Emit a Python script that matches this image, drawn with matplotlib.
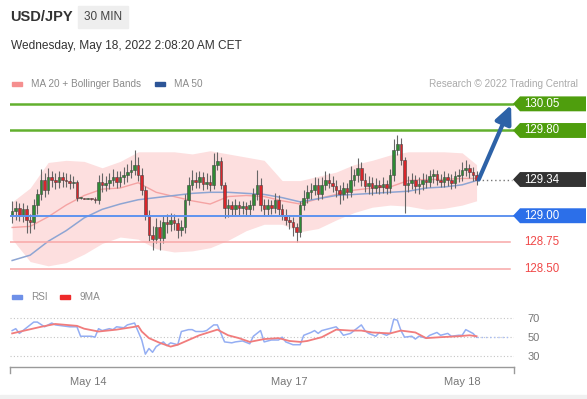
import numpy as np
import matplotlib.pyplot as plt
from matplotlib.patches import Polygon, Rectangle

plt.rcParams['font.family'] = ['Liberation Sans', 'DejaVu Sans']

W, H = 587, 399

# 30 min candles (open = previous close)
first_open = 129.01
close = [129.04, 129.07, 129.01, 129.06, 128.96, 128.94, 129.10, 129.20, 129.34, 129.24,
         129.36, 129.34, 129.32, 129.36, 129.34, 129.33, 129.31, 129.32, 129.17, 129.17,
         129.16, 129.17, 129.16, 129.15, 129.32, 129.29, 129.31, 129.34, 129.36, 129.32,
         129.36, 129.38, 129.41, 129.43, 129.48, 129.38, 129.24, 129.01, 128.82, 128.78,
         128.89, 128.79, 128.94, 128.92, 128.96, 128.93, 128.87, 128.89, 129.15, 129.29,
         129.34, 129.32, 129.36, 129.30, 129.32, 129.29, 129.48, 129.51, 129.29, 129.07,
         129.10, 129.06, 129.10, 129.07, 129.09, 129.06, 129.10, 129.20, 129.29, 129.10,
         129.06, 129.10, 129.07, 129.15, 129.06, 129.01, 128.96, 128.94, 128.89, 128.85,
         129.10, 129.17, 129.22, 129.24, 129.29, 129.20, 129.29, 129.34, 129.31, 129.28,
         129.24, 129.20, 129.26, 129.22, 129.34, 129.38, 129.45, 129.34, 129.28, 129.31,
         129.26, 129.29, 129.27, 129.30, 129.26, 129.38, 129.62, 129.67, 129.52, 129.29,
         129.31, 129.34, 129.28, 129.30, 129.34, 129.32, 129.37, 129.39, 129.34, 129.32,
         129.36, 129.34, 129.31, 129.37, 129.38, 129.43, 129.45, 129.41, 129.38, 129.34]
high = [129.14, 129.14, 129.12, 129.12, 129.10, 129.02, 129.16, 129.25, 129.44, 129.40,
        129.45, 129.42, 129.40, 129.42, 129.41, 129.40, 129.39, 129.37, 129.34, 129.18,
        129.17, 129.17, 129.17, 129.18, 129.38, 129.40, 129.37, 129.40, 129.44, 129.42,
        129.42, 129.46, 129.49, 129.52, 129.62, 129.55, 129.45, 129.28, 129.05, 128.90,
        128.98, 128.96, 129.00, 129.02, 129.03, 129.02, 128.98, 128.96, 129.20, 129.36,
        129.43, 129.41, 129.42, 129.41, 129.40, 129.38, 129.59, 129.60, 129.55, 129.32,
        129.16, 129.14, 129.16, 129.14, 129.14, 129.13, 129.15, 129.26, 129.43, 129.35,
        129.16, 129.16, 129.15, 129.21, 129.19, 129.11, 129.06, 129.01, 128.99, 128.93,
        129.14, 129.24, 129.29, 129.31, 129.36, 129.35, 129.36, 129.42, 129.40, 129.37,
        129.34, 129.29, 129.32, 129.31, 129.47, 129.44, 129.54, 129.50, 129.40, 129.37,
        129.36, 129.35, 129.34, 129.36, 129.34, 129.44, 129.72, 129.76, 129.73, 129.55,
        129.37, 129.40, 129.38, 129.36, 129.40, 129.39, 129.43, 129.44, 129.43, 129.39,
        129.42, 129.40, 129.39, 129.42, 129.44, 129.50, 129.52, 129.49, 129.46, 129.42]
low = [128.93, 128.96, 128.95, 128.94, 128.84, 128.84, 128.88, 129.02, 129.15, 129.18,
       129.20, 129.27, 129.25, 129.26, 129.27, 129.27, 129.25, 129.26, 129.14, 129.16,
       129.16, 129.16, 129.15, 129.12, 129.11, 129.22, 129.23, 129.25, 129.28, 129.26,
       129.27, 129.30, 129.32, 129.35, 129.38, 129.33, 129.19, 128.96, 128.76, 128.68,
       128.74, 128.68, 128.74, 128.84, 128.86, 128.87, 128.79, 128.81, 128.84, 129.10,
       129.24, 129.26, 129.26, 129.24, 129.25, 129.23, 129.25, 129.43, 129.25, 128.98,
       128.99, 129.00, 129.01, 129.01, 129.02, 129.00, 129.01, 129.05, 129.15, 129.04,
       129.00, 129.01, 129.02, 129.03, 129.01, 128.96, 128.91, 128.88, 128.81, 128.75,
       128.80, 129.05, 129.12, 129.16, 129.19, 129.15, 129.16, 129.24, 129.26, 129.22,
       129.18, 129.11, 129.15, 129.17, 129.18, 129.28, 129.32, 129.28, 129.22, 129.20,
       129.19, 129.21, 129.20, 129.21, 129.20, 129.21, 129.33, 129.57, 129.48, 129.03,
       129.22, 129.25, 129.21, 129.20, 129.24, 129.26, 129.27, 129.31, 129.29, 129.27,
       129.27, 129.28, 129.25, 129.26, 129.32, 129.33, 129.37, 129.35, 129.33, 129.29]

# moving averages / bands, read every 5 candles
ind_idx = [0, 5, 10, 15, 20, 25, 30, 35, 40, 45, 50, 55, 60, 65, 70, 75, 80, 85, 90,
           95, 100, 105, 110, 115, 120, 125, 129]
ma20 = [128.89, 128.90, 128.99, 129.10, 129.19, 129.25, 129.26, 129.31, 129.22, 129.18,
        129.14, 129.11, 129.18, 129.19, 129.18, 129.14, 129.11, 129.16, 129.20, 129.24,
        129.26, 129.27, 129.33, 129.34, 129.34, 129.35, 129.35]
ma50 = [128.58, 128.63, 128.76, 128.86, 128.98, 129.06, 129.11, 129.15, 129.17, 129.19,
        129.21, 129.22, 129.22, 129.21, 129.20, 129.17, 129.13, 129.16, 129.19, 129.20,
        129.21, 129.22, 129.23, 129.26, 129.27, 129.29, 129.33]
bb_upper = [129.13, 129.26, 129.50, 129.52, 129.51, 129.45, 129.51, 129.60, 129.60, 129.60,
            129.58, 129.61, 129.58, 129.55, 129.52, 129.33, 129.33, 129.37, 129.41, 129.48,
            129.52, 129.57, 129.60, 129.60, 129.60, 129.59, 129.48]
bb_lower = [128.78, 128.57, 128.53, 128.56, 128.64, 128.74, 128.80, 128.78, 128.69, 128.66,
            128.67, 128.70, 128.77, 128.86, 128.92, 128.92, 128.85, 128.88, 128.96, 129.03,
            129.08, 129.10, 129.09, 129.06, 129.07, 129.10, 129.14]

# RSI and its 9MA
rsi_idx = [0, 1, 2, 3, 6, 7, 9, 11, 12, 14, 16, 18, 19, 22, 23, 24, 25, 27, 28, 29,
           31, 32, 34, 35, 36, 37, 38, 39, 40, 42, 43, 44, 46, 47, 49, 50, 51, 53, 54, 56,
           57, 58, 59, 61, 62, 64, 66, 67, 68, 69, 70, 72, 74, 75, 76, 78, 79, 80, 81, 83,
           84, 85, 86, 88, 90, 91, 92, 94, 95, 97, 98, 99, 101, 102, 104, 105, 106, 107, 108, 109,
           111, 112, 113, 115, 116, 118, 119, 121, 122, 124, 125, 126, 128, 129]
rsi = [57, 59, 54, 57, 66, 66, 61, 65, 63, 62, 61, 61, 51, 51, 50, 59, 57, 59, 58, 61,
       60, 63, 65, 56, 47, 32, 38, 34, 40, 45, 41, 44, 42, 56, 58, 58, 56, 56, 57, 63,
       63, 54, 45, 44, 45, 46, 43, 51, 54, 57, 45, 47, 47, 50, 45, 42, 42, 42, 52, 55,
       57, 54, 57, 59, 61, 57, 52, 54, 57, 63, 57, 54, 51, 55, 52, 54, 69, 68, 57, 50,
       51, 48, 51, 49, 52, 55, 52, 54, 51, 52, 52, 58, 54, 50]
ma9_idx = [0, 8, 12, 18, 20, 24, 29, 34, 35, 36, 38, 41, 44, 46, 49, 52, 57, 60, 63, 66,
           70, 74, 77, 80, 82, 86, 90, 94, 97, 100, 105, 108, 112, 115, 119, 124, 127, 129]
ma9 = [54, 61, 64, 62, 59, 56, 58, 61, 62, 56, 49, 44, 40, 42, 47, 52, 58, 52, 49, 45,
       48, 49, 46, 45, 46, 50, 58, 57, 57, 55, 54, 57, 55, 49, 50, 51, 52, 51]

# key levels
res_levels = [130.05, 129.80]
sup_levels = [129.00]
weak_levels = [128.75, 128.50]
last_price = 129.34
target = 130.05

date_ticks = [21, 77, 125]
date_labels = ['May 14', 'May 17', 'May 18']


def rect(x0, y0, x1, y1):
    return [x0 / W, 1 - y1 / H, (x1 - x0) / W, (y1 - y0) / H]


def fx(px):
    # pixel column -> fraction of the price panel width
    return (px - 10) / 504


fig = plt.figure(figsize=(W / 100, H / 100), dpi=100)
fig.patch.set_facecolor('white')

# ---- price panel ----
ax = fig.add_axes(rect(10, 90, 514, 285))
ax.set_xlim(-0.6, 139.4)
ax.set_ylim(128.35, 130.18)
ax.axis('off')

x = np.arange(len(close))
c = np.array(close)
o = np.r_[first_open, c[:-1]]

ax.fill_between(ind_idx, bb_lower, bb_upper, color='#fddfdf', lw=0, zorder=1)
ax.plot(ind_idx, ma20, color='#f5a3a3', lw=1.0, zorder=2)
ax.plot(ind_idx, ma50, color='#8ea5d3', lw=1.1, zorder=2)

ax.vlines(x, low, high, color='#666666', lw=0.8, zorder=3)
body_col = np.where(c >= o, '#2f8a34', '#d9262b')
body_h = np.maximum(np.abs(c - o), 0.006)
ax.bar(x, body_h, bottom=np.minimum(o, c), width=0.72, color=body_col,
       edgecolor='#444444', linewidth=0.4, zorder=4)

line_end = fx(513)
for lv in res_levels:
    ax.axhline(lv, xmax=line_end, color='#62b02e', lw=1.8, zorder=5)
for lv in sup_levels:
    ax.axhline(lv, xmax=line_end, color='#5f93ef', lw=1.4, zorder=5)
for lv in weak_levels:
    ax.axhline(lv, xmax=fx(510), color='#f8a7a7', lw=1.1, zorder=5)

ax.plot([x[-1] + 0.5, 138.8], [last_price, last_price], ls=(0, (1, 2)),
        color='#777777', lw=1.0, zorder=5)

ax.annotate('', xy=(138.6, target - 0.01), xytext=(x[-1] + 0.6, last_price),
            arrowprops=dict(arrowstyle='-|>,head_width=0.5,head_length=1.1',
                            lw=3.0, color='#2d62a7', shrinkA=0, shrinkB=0,
                            mutation_scale=10), zorder=6)

# price labels on the right
tr = ax.get_yaxis_transform()
half = 0.07


def tag(price, face, txt_color='white'):
    a, b, e = fx(513), fx(520), fx(586)
    pts = [(a, price), (b, price + half), (e, price + half), (e, price - half), (b, price - half)]
    ax.add_patch(Polygon(pts, closed=True, transform=tr, facecolor=face,
                         edgecolor='none', clip_on=False, zorder=7))
    ax.text(fx(524), price, f'{price:.2f}', transform=tr, color=txt_color,
            fontsize=8.3, va='center', ha='left', clip_on=False, zorder=8)


for lv in res_levels:
    tag(lv, '#4f9e0d')
for lv in sup_levels:
    tag(lv, '#2c6fe9')
tag(last_price, '#333333')
for lv in weak_levels:
    ax.text(fx(524), lv, f'{lv:.2f}', transform=tr, color='#f04848',
            fontsize=8.3, va='center', ha='left', clip_on=False)

# ---- RSI panel ----
ax2 = fig.add_axes(rect(10, 300, 514, 367))
ax2.set_xlim(-0.6, 139.4)
ax2.set_ylim(18.4, 89.4)
for g in (30, 50, 70):
    ax2.axhline(g, color='#c4c4c4', lw=0.8, ls=(0, (1, 2)), zorder=1)
ax2.plot(rsi_idx, rsi, color='#94aef3', lw=1.1, zorder=2)
ax2.plot(ma9_idx, ma9, color='#f17c7c', lw=1.3, zorder=3)
ax2.plot([rsi_idx[-1], 138.3], [rsi[-1], rsi[-1]], ls=(0, (1, 2)),
         color='#a9bef5', lw=1.0, zorder=2)
for s in ('top', 'left', 'right'):
    ax2.spines[s].set_visible(False)
ax2.spines['bottom'].set_color('#9a9a9a')
ax2.spines['bottom'].set_linewidth(1.0)
for xe in (0, 1):
    ax2.plot([xe, xe], [0, -0.09], transform=ax2.transAxes, color='#9a9a9a',
             lw=1.0, clip_on=False)
ax2.set_xticks(date_ticks, date_labels)
ax2.tick_params(axis='x', length=0, pad=7, labelsize=8, labelcolor='#777777')
ax2.yaxis.tick_right()
ax2.set_yticks([30, 50, 70])
ax2.tick_params(axis='y', length=0, pad=10, labelsize=8, labelcolor='#777777')

# ---- header and legends ----
fig.text(10 / W, 1 - 17 / H, 'USD/JPY', fontsize=10.5, fontweight='bold',
         color='#333333', va='center')
fig.patches.append(Rectangle((78 / W, 1 - 28 / H), 50 / W, 22 / H,
                             transform=fig.transFigure, color='#eeeeee'))
fig.text(103 / W, 1 - 17 / H, '30 MIN', fontsize=8.5, color='#444444',
         ha='center', va='center')
fig.text(11 / W, 1 - 46 / H, 'Wednesday, May 18, 2022 2:08:20 AM CET',
         fontsize=8.6, color='#333333', va='center')

fig.patches.append(Rectangle((12 / W, 1 - 86 / H), 10 / W, 4 / H,
                             transform=fig.transFigure, color='#f58f8f'))
fig.text(31 / W, 1 - 84 / H, 'MA 20 + Bollinger Bands', fontsize=7.2,
         color='#8a8a8a', va='center')
fig.patches.append(Rectangle((155 / W, 1 - 86 / H), 10 / W, 4 / H,
                             transform=fig.transFigure, color='#2d5597'))
fig.text(174 / W, 1 - 84 / H, 'MA 50', fontsize=7.2, color='#8a8a8a', va='center')
fig.text(578 / W, 1 - 84 / H, 'Research © 2022 Trading Central', fontsize=7.2,
         color='#aaaaaa', va='center', ha='right')

fig.patches.append(Rectangle((12 / W, 1 - 299 / H), 10 / W, 4 / H,
                             transform=fig.transFigure, color='#6e90e8'))
fig.text(31 / W, 1 - 297 / H, 'RSI', fontsize=7.2, color='#8a8a8a', va='center')
fig.patches.append(Rectangle((60 / W, 1 - 299 / H), 10 / W, 4 / H,
                             transform=fig.transFigure, color='#ee2a2a'))
fig.text(80 / W, 1 - 297 / H, '9MA', fontsize=7.2, color='#8a8a8a', va='center')

fig.patches.append(Rectangle((0, 0), 1, 4 / H, transform=fig.transFigure,
                             color='#f0f0f0'))

fig.savefig('out.png', dpi=100)
